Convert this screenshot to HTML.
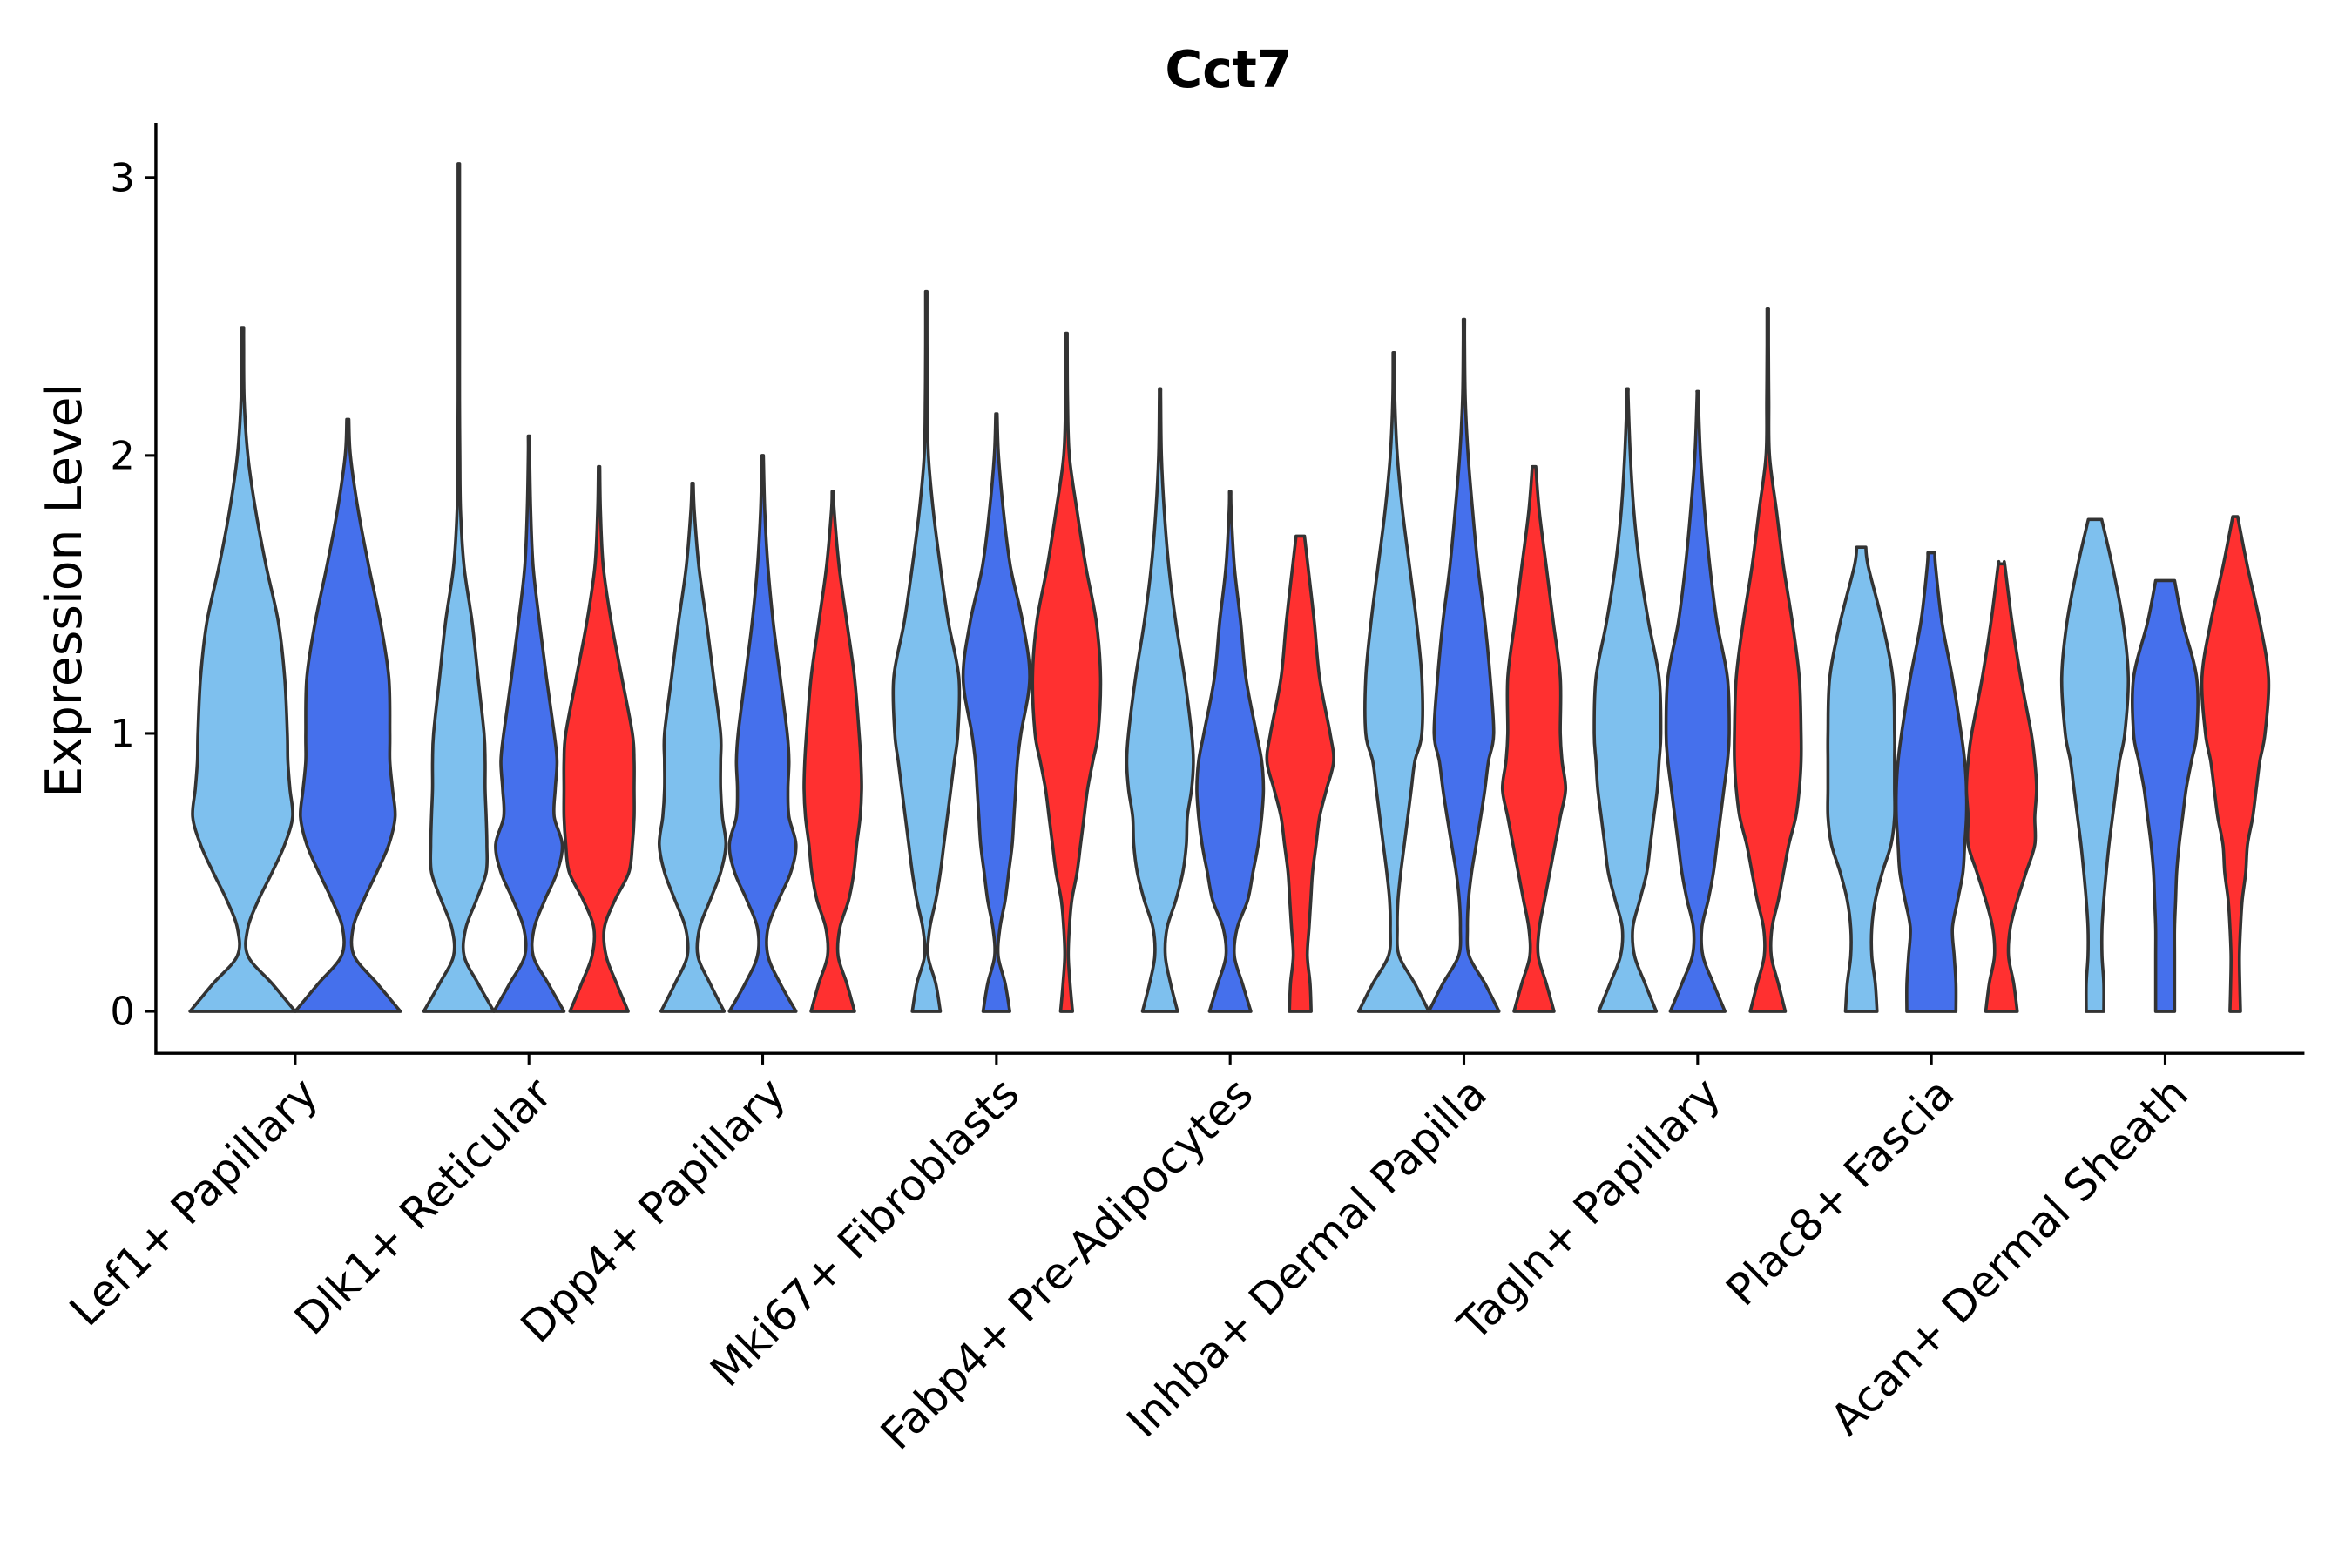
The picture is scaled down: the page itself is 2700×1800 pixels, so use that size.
<!DOCTYPE html>
<html><head><meta charset="utf-8"><style>
html,body{margin:0;padding:0;background:#fff;}
svg{display:block;}
text{font-family:"DejaVu Sans","Liberation Sans",sans-serif;fill:#000;}
</style></head><body>
<svg id="chart" width="2700" height="1800" viewBox="0 0 1569.7 1046.5" xmlns="http://www.w3.org/2000/svg">
<text x="820" y="58" font-size="34" font-weight="bold" text-anchor="middle">Cct7</text>
<text transform="translate(54,394) rotate(-90)" font-size="33" text-anchor="middle">Expression Level</text>
<g id="plot"></g>
</svg>
<script>
const categories = ["Lef1+ Papillary","Dlk1+ Reticular","Dpp4+ Papillary","Mki67+ Fibroblasts","Fabp4+ Pre-Adipocytes","Inhba+ Dermal Papilla","Tagln+ Papillary","Plac8+ Fascia","Acan+ Dermal Sheath"];
const yTicks = [0,1,2,3];
const densityGrid = [0,0.1,0.2,0.3,0.4,0.5,0.6,0.7,0.8,0.9,1.0,1.2,1.4,1.6,1.8,2.0,2.2,2.4,2.6,2.8,3.0];
// max expression values per cluster (null = group absent)
const maxSky = [2.46,3.05,1.90,2.59,2.24,2.37,2.24,1.67,1.77];
const maxBlue = [2.13,2.07,2.0,2.15,1.87,2.49,2.23,1.65,1.55];
const maxRed = [null,1.96,1.87,2.44,1.71,1.96,2.53,1.61,1.78];
const topSky = [0.02,0.02,0.02,0.02,0.02,0.02,0.02,0.13,0.19];
const topBlue = [0.02,0.02,0.02,0.02,0.02,0.02,0.02,0.10,0.27];
const topRed = [0,0.02,0.02,0.02,0.12,0.05,0.02,0.08,0.07];
// relative densities on densityGrid
const densSkyLef1 = [1,.56,.1,.1,.3,.56,.8,.95,.9,.86,.85,.8,.68,.45,.25,.1,.03,.02];
const densBlueLef1 = [1,.56,.12,.1,.3,.55,.78,.9,.85,.8,.8,.78,.62,.4,.2,.05];
const densSkyDlk1 = [1,.55,.15,.2,.5,.78,.8,.78,.75,.75,.72,.55,.38,.15,.05,.03,.02,.02,.02,.02,.02];
const densBlueDlk1 = [1,.55,.12,.15,.45,.8,.95,.72,.75,.8,.72,.5,.3,.12,.05,.02];
const densRedDlk1 = [.83,.5,.2,.15,.45,.85,.95,1,1,1,.95,.65,.35,.12,.04];
const densSkyDpp4 = [.9,.5,.15,.2,.5,.8,.95,.85,.8,.8,.8,.6,.4,.18,.05];
const densBlueDpp4 = [.95,.5,.15,.15,.45,.8,.95,.75,.72,.75,.7,.5,.3,.15,.06];
const densRedDpp4 = [.62,.4,.15,.2,.45,.6,.68,.78,.82,.8,.75,.62,.4,.18,.04];
const densSkyMki67 = [.4,.27,.05,.1,.27,.4,.5,.6,.7,.8,.9,.93,.63,.4,.2,.06,.03,.02];
const densBlueMki67 = [.38,.25,.05,.1,.25,.35,.45,.5,.55,.6,.7,.95,.75,.4,.2,.06];
const densRedMki67 = [.17,.1,.05,.08,.15,.3,.4,.5,.6,.75,.9,.97,.85,.55,.3,.08,.03,.02];
const densSkyFabp4 = [.5,.3,.15,.2,.45,.65,.75,.78,.9,.95,.9,.7,.45,.25,.12,.04,.02];
const densBlueFabp4 = [.59,.35,.12,.2,.5,.65,.8,.9,.95,.9,.75,.45,.3,.12,.03];
const densRedFabp4 = [.31,.28,.2,.25,.3,.35,.45,.55,.75,.95,.85,.55,.4,.22];
const densSkyInhba = [1,.6,.15,.1,.12,.2,.3,.4,.5,.6,.8,.8,.65,.45,.25,.1,.03];
const densBlueInhba = [1,.6,.15,.1,.13,.22,.35,.48,.6,.7,.85,.75,.6,.4,.25,.12,.04,.02];
const densRedInhba = [.57,.35,.12,.15,.3,.45,.6,.75,.9,.8,.75,.75,.55,.35,.15];
const densSkyTagln = [.82,.5,.2,.15,.35,.55,.65,.75,.85,.9,.95,.9,.6,.35,.18,.08,.02];
const densBlueTagln = [.78,.45,.15,.12,.3,.45,.55,.65,.75,.85,.9,.85,.55,.35,.2,.08,.02];
const densRedTagln = [.5,.3,.1,.12,.3,.45,.6,.8,.9,.95,.95,.9,.7,.45,.25,.05,.03,.02];
const densSkyPlac8 = [.45,.4,.3,.3,.4,.6,.85,.95,.95,.95,.95,.9,.6,.2];
const densBluePlac8 = [.7,.7,.65,.6,.75,.9,.95,1,1,.95,.85,.6,.3,.12];
const densRedPlac8 = [.45,.35,.2,.25,.45,.7,.95,.95,1,.95,.85,.55,.3,.1];
const densSkyAcan = [.25,.25,.2,.2,.25,.32,.4,.5,.6,.7,.85,.95,.8,.5];
const densBlueAcan = [.27,.27,.27,.27,.3,.33,.4,.5,.6,.75,.9,.9,.5];
const densRedAcan = [.15,.13,.12,.15,.2,.3,.35,.5,.6,.7,.85,.95,.7,.35];

const densSky = [densSkyLef1,densSkyDlk1,densSkyDpp4,densSkyMki67,densSkyFabp4,densSkyInhba,densSkyTagln,densSkyPlac8,densSkyAcan];
const densBlue = [densBlueLef1,densBlueDlk1,densBlueDpp4,densBlueMki67,densBlueFabp4,densBlueInhba,densBlueTagln,densBluePlac8,densBlueAcan];
const densRed = [null,densRedDlk1,densRedDpp4,densRedMki67,densRedFabp4,densRedInhba,densRedTagln,densRedPlac8,densRedAcan];

const NS = "http://www.w3.org/2000/svg";
const plot = document.getElementById("plot");
const xAxisLeft = 104, xAxisRight = 1538, xAxisY = 703, yAxisTop = 82;
const step = 156, firstX = 197;
function xScale(i){ return firstX + step*i; }
function yScale(v){ return 675 - 185.5*v; }
function mk(tag, attrs){ const e=document.createElementNS(NS,tag); for(const k in attrs) e.setAttribute(k,attrs[k]); return e; }

function smoothPath(pts){
  let d = "";
  for(let i=0;i<pts.length-1;i++){
    const p0=pts[Math.max(0,i-1)], p1=pts[i], p2=pts[i+1], p3=pts[Math.min(pts.length-1,i+2)];
    const c1=[p1[0]+(p2[0]-p0[0])/6, p1[1]+(p2[1]-p0[1])/6];
    const c2=[p2[0]-(p3[0]-p1[0])/6, p2[1]-(p3[1]-p1[1])/6];
    d += ` C${c1[0].toFixed(2)},${c1[1].toFixed(2)} ${c2[0].toFixed(2)},${c2[1].toFixed(2)} ${p2[0].toFixed(2)},${p2[1].toFixed(2)}`;
  }
  return d;
}
function violinPath(xc, half, dens, maxV, topW){
  const right=[];
  for(let k=0;k<dens.length;k++){ if(densityGrid[k] < maxV) right.push([xc+dens[k]*half, yScale(densityGrid[k])]); }
  right.push([xc+topW*half, yScale(maxV)]);
  const left = right.map(p=>[2*xc-p[0],p[1]]).reverse();
  let d = `M${(2*xc-right[0][0]).toFixed(2)},${right[0][1].toFixed(2)} L${right[0][0].toFixed(2)},${right[0][1].toFixed(2)}`;
  d += smoothPath(right);
  d += ` L${left[0][0].toFixed(2)},${left[0][1].toFixed(2)}`;
  d += smoothPath(left);
  return d + " Z";
}

const colors = {sky:"#7EC0EE", blue:"#4570EC", red:"#FF3030"};
categories.forEach((cat,i)=>{
  const xc = xScale(i);
  const hasRed = maxRed[i] !== null;
  const groups = hasRed
    ? [["sky",densSky[i],maxSky[i],topSky[i],-0.3],["blue",densBlue[i],maxBlue[i],topBlue[i],0],["red",densRed[i],maxRed[i],topRed[i],0.3]]
    : [["sky",densSky[i],maxSky[i],topSky[i],-0.225],["blue",densBlue[i],maxBlue[i],topBlue[i],0.225]];
  const half = hasRed ? step*0.15 : step*0.225;
  groups.forEach(g=>{
    const p = mk("path",{d:violinPath(xc+g[4]*step, half, g[1], g[2], g[3]), fill:colors[g[0]], stroke:"#333333","stroke-width":2.1,"stroke-linejoin":"round"});
    
    
    plot.appendChild(p);
  });
  const t = mk("line",{x1:xc,x2:xc,y1:xAxisY,y2:xAxisY+8,stroke:"#000","stroke-width":1.8});
  
  
  plot.appendChild(t);
  const lbl = mk("text",{transform:`translate(${xc+2},${xAxisY+14}) rotate(-45)`,"text-anchor":"end",dy:"0.72em","font-size":29});
  lbl.textContent = cat;
  
  
  plot.appendChild(lbl);
});
yTicks.forEach(v=>{
  const y=yScale(v);
  const t = mk("line",{x1:xAxisLeft-7,x2:xAxisLeft,y1:y,y2:y,stroke:"#000","stroke-width":1.8});
  
  
  plot.appendChild(t);
  const l = mk("text",{x:xAxisLeft-14,y:y+9,"text-anchor":"end","font-size":26});
  l.textContent = String(v);
  
  
  plot.appendChild(l);
});
const ax = mk("path",{d:`M${xAxisLeft},${yAxisTop} L${xAxisLeft},${xAxisY} L${xAxisRight},${xAxisY}`,fill:"none",stroke:"#000","stroke-width":2});


plot.appendChild(ax);
</script>
</body></html>
